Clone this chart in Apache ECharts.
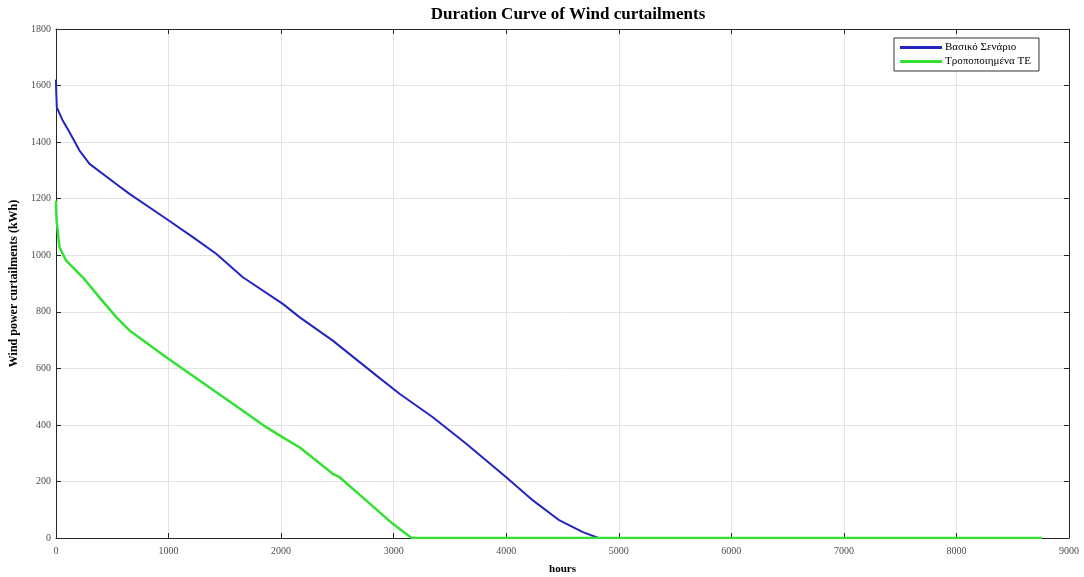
<!DOCTYPE html>
<html>
<head>
<meta charset="utf-8">
<script src="https://cdn.jsdelivr.net/npm/echarts@6/dist/echarts.min.js"></script>
<style>
  html, body { margin: 0; padding: 0; background: #fff; }
  #chart { width: 1084px; height: 577px; }
</style>
</head>
<body>
<div id="chart"></div>
<script>
// duration curves (hours, kWh)
var baseHours = [0, 2, 7, 60, 120, 209, 298, 535, 653, 979, 1216, 1423, 1660, 2015, 2163, 2459, 2845, 3052, 3348, 3645, 4000, 4237, 4474, 4681, 4820, 8760];
var baseValues = [1621, 1580, 1523, 1476, 1435, 1370, 1323, 1252, 1217, 1129, 1064, 1005, 922, 828, 781, 698, 575, 510, 427, 333, 215, 133, 62, 21, 0, 0];

var modHours = [0, 5, 31, 90, 238, 386, 535, 653, 979, 1275, 1571, 1868, 2015, 2163, 2459, 2519, 2755, 2992, 3160, 8760];
var modValues = [1193, 1123, 1028, 981, 922, 851, 781, 734, 639, 557, 475, 392, 356, 321, 227, 215, 133, 50, 0, 0];

var seriesNames = ['Βασικό Σενάριο', 'Τροποποιημένα ΤΕ'];
var colors = ['#2424c0', '#33e033'];

function pairs(xs, ys) {
    return xs.map(function (x, i) { return [x, ys[i]]; });
}

var font = 'Liberation Serif';
var axisColor = '#262626';
var plain = function (v) { return String(v); };

// MATLAB-like box: ticks inside on all four sides
function boxAxis(position, min, max, interval) {
    return {
        type: 'value', position: position,
        min: min, max: max, interval: interval,
        axisLine: { show: true, onZero: false, lineStyle: { color: axisColor, width: 1 } },
        axisTick: { show: true, inside: true, length: 5, lineStyle: { color: axisColor } },
        axisLabel: { show: false },
        splitLine: { show: false }
    };
}

var myChart = echarts.init(document.getElementById('chart'));
myChart.setOption({
    animation: false,
    color: colors,
    textStyle: { fontFamily: font },
    title: {
        text: 'Duration Curve of Wind curtailments',
        left: 563,
        textAlign: 'center',
        top: 1,
        textStyle: { fontFamily: font, fontSize: 17, fontWeight: 'bold', color: '#000' }
    },
    grid: { left: 56, right: 15, top: 29, bottom: 39, outerBoundsMode: 'none' },
    legend: {
        data: seriesNames,
        orient: 'vertical',
        left: 894,
        top: 38,
        width: 149,
        padding: [4, 8, 4, 6],
        itemGap: 3,
        itemWidth: 42,
        itemHeight: 3,
        icon: 'rect',
        backgroundColor: '#fff',
        borderColor: '#333',
        borderWidth: 1,
        borderRadius: 0,
        textStyle: { fontFamily: font, fontSize: 11, color: '#000', padding: [0, 0, 0, -2] }
    },
    xAxis: [
        {
            type: 'value',
            min: 0, max: 9000, interval: 1000,
            name: 'hours',
            nameLocation: 'middle',
            nameGap: 26,
            nameTextStyle: { fontFamily: font, fontSize: 11, fontWeight: 'bold', color: '#000' },
            axisLine: { show: true, onZero: false, lineStyle: { color: axisColor, width: 1 } },
            axisTick: { show: true, inside: true, length: 5, lineStyle: { color: axisColor } },
            axisLabel: { fontFamily: font, fontSize: 10, color: '#4d4d4d', margin: 8, formatter: plain },
            splitLine: { show: true, lineStyle: { color: '#e3e3e3' } }
        },
        boxAxis('top', 0, 9000, 1000)
    ],
    yAxis: [
        {
            type: 'value',
            min: 0, max: 1800, interval: 200,
            name: 'Wind power curtailments (kWh)',
            nameLocation: 'middle',
            nameGap: 28,
            nameTextStyle: { fontFamily: font, fontSize: 12, fontWeight: 'bold', color: '#000' },
            axisLine: { show: true, onZero: false, lineStyle: { color: axisColor, width: 1 } },
            axisTick: { show: true, inside: true, length: 5, lineStyle: { color: axisColor } },
            axisLabel: { fontFamily: font, fontSize: 10, color: '#4d4d4d', margin: 5, formatter: plain },
            splitLine: { show: true, lineStyle: { color: '#e3e3e3' } }
        },
        boxAxis('right', 0, 1800, 200)
    ],
    series: [
        {
            name: seriesNames[0],
            type: 'line',
            showSymbol: false,
            lineStyle: { width: 2, color: colors[0] },
            data: pairs(baseHours, baseValues)
        },
        {
            name: seriesNames[1],
            type: 'line',
            showSymbol: false,
            lineStyle: { width: 2.5, color: colors[1] },
            data: pairs(modHours, modValues)
        }
    ]
});
</script>
</body>
</html>
